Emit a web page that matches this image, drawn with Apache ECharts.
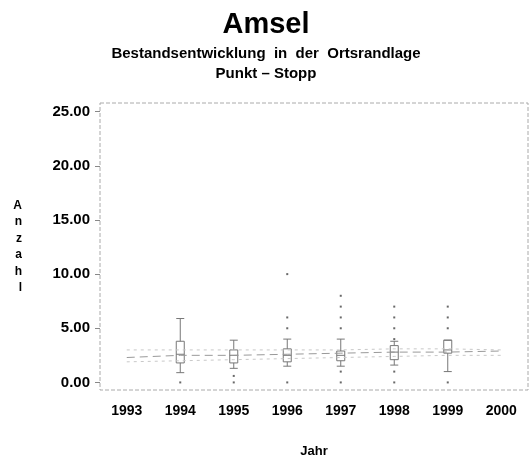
<!DOCTYPE html>
<html>
<head>
<meta charset="utf-8">
<script src="https://cdn.jsdelivr.net/npm/echarts@6/dist/echarts.min.js"></script>
<style>
	html, body { margin: 0; padding: 0; background: #fff; }
	#chart { width: 532px; height: 458px; }
</style>
</head>
<body>
<div id="chart"></div>
<script>
// Jahre (x-Achse)
var jahre = ["1993", "1994", "1995", "1996", "1997", "1998", "1999", "2000"];
// Boxplot: [min, Q1, median, Q3, max] je Jahr
var boxWerte = [
	"-",
	[0.9, 1.8, 2.6, 3.8, 5.9],
	[1.3, 1.8, 2.5, 3.0, 3.9],
	[1.5, 1.9, 2.5, 3.1, 4.0],
	[1.5, 2.0, 2.5, 2.9, 4.0],
	[1.6, 2.1, 2.8, 3.4, 3.8],
	[1.0, 2.7, 3.0, 3.9, 3.9],
	"-"
];
// Ausreisser [jahr, anzahl]
var ausreisser = [
	["1994", 0],
	["1995", 0.6], ["1995", 0],
	["1996", 10], ["1996", 6], ["1996", 5], ["1996", 0],
	["1997", 8], ["1997", 7], ["1997", 6], ["1997", 5], ["1997", 1], ["1997", 0],
	["1998", 7], ["1998", 6], ["1998", 5], ["1998", 4], ["1998", 1], ["1998", 0],
	["1999", 7], ["1999", 6], ["1999", 5], ["1999", 0]
];
// gestrichelte Mittel-Linien
var mittelOben = [3.0, 3.0, 3.0, 3.0, 3.0, 3.1, 3.1, 3.0];
var mittel = [2.3, 2.5, 2.5, 2.6, 2.7, 2.8, 2.8, 2.9];
var mittelUnten = [1.9, 2.0, 2.1, 2.2, 2.3, 2.4, 2.5, 2.5];
var yTicks = [0, 5, 10, 15, 20, 25];

var font = "'Liberation Sans', Arial, sans-serif";

echarts.init(document.getElementById("chart")).setOption({
	animation: false,
	title: [
		{
			text: "Amsel",
			left: "center",
			top: 5,
			textStyle: { fontFamily: font, fontSize: 29, fontWeight: "bold", color: "#000" }
		},
		{
			text: "Bestandsentwicklung  in  der  Ortsrandlage\nPunkt \u2013 Stopp",
			left: "center",
			top: 39,
			textStyle: { fontFamily: font, fontSize: 15, fontWeight: "bold", color: "#000", lineHeight: 20 }
		}
	],
	grid: {
		left: 100,
		right: 4,
		top: 103,
		bottom: 68,
		outerBoundsMode: "none",
		containLabel: false,
		show: true,
		borderColor: "#aaa",
		borderWidth: 1,
		borderType: "dashed"
	},
	xAxis: {
		type: "category",
		data: jahre,
		boundaryGap: true,
		name: "Jahr",
		nameLocation: "middle",
		nameGap: 55,
		nameTextStyle: { fontFamily: font, fontSize: 13, fontWeight: "bold", color: "#000" },
		axisLine: { show: false },
		axisTick: { show: false },
		axisLabel: { fontFamily: font, fontSize: 14, fontWeight: "bold", color: "#000", margin: 14 },
		splitLine: { show: false }
	},
	yAxis: {
		type: "value",
		min: -0.7,
		max: 25.8,
		name: "A\nn\nz\na\nh\nl",
		nameLocation: "middle",
		nameRotate: 0,
		nameGap: 78,
		nameTextStyle: { fontFamily: font, fontSize: 12, fontWeight: "bold", color: "#000", lineHeight: 16.5 },
		axisLine: { show: false },
		axisTick: { show: true, customValues: yTicks, length: 5, lineStyle: { color: "#888" } },
		axisLabel: {
			customValues: yTicks,
			fontFamily: font, fontSize: 15, fontWeight: "bold", color: "#000", margin: 10,
			formatter: function (v) { return v.toFixed(2); }
		},
		splitLine: { show: false }
	},
	series: [
		{
			name: "oben",
			type: "line",
			data: mittelOben,
			symbol: "none",
			lineStyle: { color: "#c8c8c8", width: 1, type: [3, 4] }
		},
		{
			name: "mittel",
			type: "line",
			data: mittel,
			symbol: "none",
			lineStyle: { color: "#999", width: 1, type: [8, 5] }
		},
		{
			name: "unten",
			type: "line",
			data: mittelUnten,
			symbol: "none",
			lineStyle: { color: "#c8c8c8", width: 1, type: [3, 4] }
		},
		{
			name: "Anzahl",
			type: "boxplot",
			data: boxWerte,
			boxWidth: [7, 8],
			itemStyle: { color: "#fff", borderColor: "#777", borderWidth: 1 }
		},
		{
			name: "Ausreisser",
			type: "scatter",
			data: ausreisser,
			symbol: "rect",
			symbolSize: 2,
			itemStyle: { color: "#444" }
		}
	]
});
</script>
</body>
</html>
